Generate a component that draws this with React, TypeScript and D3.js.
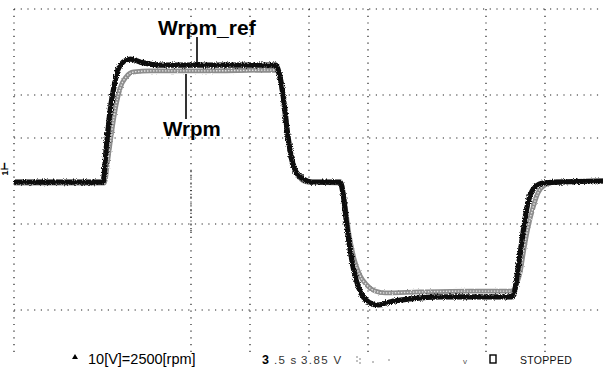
import React from "react";
import * as d3 from "d3";

// Time axis in divisions (0.5 s/div), speed in rpm (10 V = 2500 rpm, 250 rpm/div)
const refTime = [0, 1.51, 1.56, 1.63, 1.7, 1.76, 1.85, 1.97, 2.14, 2.48, 3.15, 4.44, 4.49, 4.56, 4.63, 4.7, 4.78, 4.9, 5.05, 5.53, 5.58, 5.64, 5.71, 5.8, 5.9, 6.03, 6.17, 6.37, 6.71, 7.22, 7.9, 8.44, 8.49, 8.54, 8.61, 8.68, 8.75, 8.83, 8.97, 9.25, 10];
const refRpm = [-6, -6, 180, 413, 558, 645, 692, 709, 692, 674, 674, 674, 634, 500, 297, 134, 52, 12, -6, -6, -81, -256, -430, -576, -663, -709, -721, -703, -686, -674, -674, -674, -634, -517, -343, -180, -81, -35, -12, -6, 0];

const speedTime = [0, 1.53, 1.59, 1.66, 1.73, 1.8, 1.9, 2.03, 2.31, 3.15, 4.44, 4.51, 4.58, 4.64, 4.73, 4.83, 4.98, 5.54, 5.61, 5.68, 5.76, 5.86, 5.98, 6.12, 6.29, 6.88, 7.73, 8.44, 8.51, 8.58, 8.64, 8.71, 8.8, 8.88, 9.0, 9.17, 10];
const speedRpm = [-12, -12, 122, 297, 442, 541, 605, 634, 640, 640, 645, 599, 442, 250, 105, 23, -6, -12, -140, -314, -448, -547, -605, -640, -651, -645, -640, -640, -605, -529, -401, -273, -151, -70, -23, -6, 0];

// Graticule lines that are visible on the screen
const gridTimes = [0, 3, 4, 5, 6, 8, 9];
const gridRpm = [1000, 500, 250, -250, -750];

const labelRef = "Wrpm_ref";
const labelSpeed = "Wrpm";
const scaleNote = "10[V]=2500[rpm]";
const statusText = "STOPPED";

export default function App() {
  const W = 603;
  const H = 374;
  const x = d3.scaleLinear().domain([0, 10]).range([14, 604]);
  const y = d3.scaleLinear().domain([-1000, 1000]).range([353, 9]);

  const line = d3
    .line<[number, number]>()
    .x((d) => x(d[0]))
    .y((d) => y(d[1]))
    .curve(d3.curveMonotoneX);

  const refPath = line(refTime.map((t, i) => [t, refRpm[i]]) as [number, number][]) || "";
  const speedPath = line(speedTime.map((t, i) => [t, speedRpm[i]]) as [number, number][]) || "";

  const font = "'Liberation Sans', Arial, sans-serif";

  return (
    <svg
      width={W}
      height={H}
      viewBox={`0 0 ${W} ${H}`}
      style={{ position: "absolute", left: 0, top: 0, background: "#fff" }}
    >
      <defs>
        <filter id="fuzz" filterUnits="userSpaceOnUse" x={0} y={0} width={W} height={H}>
          <feTurbulence type="fractalNoise" baseFrequency="0.9" numOctaves={1} seed={4} result="n" />
          <feDisplacementMap in="SourceGraphic" in2="n" scale={4.5} xChannelSelector="R" yChannelSelector="G" />
        </filter>
        <filter id="fuzzSoft" filterUnits="userSpaceOnUse" x={0} y={0} width={W} height={H}>
          <feTurbulence type="fractalNoise" baseFrequency="0.7" numOctaves={1} seed={9} result="n" />
          <feDisplacementMap in="SourceGraphic" in2="n" scale={2.5} xChannelSelector="R" yChannelSelector="G" />
        </filter>
      </defs>
      <rect width={W} height={H} fill="#fff" />

      {/* dotted graticule */}
      <g stroke="#222" strokeWidth={1.2} strokeDasharray="1.2 5.5">
        {gridRpm.map((v) => (
          <line key={"h" + v} x1={x(0)} x2={W} y1={y(v)} y2={y(v)} />
        ))}
        {gridTimes.map((t) => (
          <line key={"v" + t} x1={x(t)} x2={x(t)} y1={y(1000)} y2={y(-1000)} />
        ))}
      </g>
      {/* centre axis tick marks */}
      <g stroke="#222" strokeWidth={1.2} strokeDasharray="1.2 2.6">
        <line x1={x(3)} x2={x(3)} y1={y(0) - 10} y2={y(-250) + 10} />
      </g>

      {/* channel marker */}
      <g transform={`translate(8, ${y(0) - 12}) rotate(-90)`}>
        <text x={0} y={0} fontFamily={font} fontSize={9} fontWeight="bold" fill="#000" textAnchor="middle">
          1⊢
        </text>
      </g>

      {/* traces */}
      <path d={speedPath} fill="none" stroke="#8d8d8d" strokeWidth={4.8} filter="url(#fuzzSoft)" />
      <path d={speedPath} fill="none" stroke="#e2e2e2" strokeWidth={1.4} strokeDasharray="1.5 1.5" />
      <path d={refPath} fill="none" stroke="#0a0a0a" strokeWidth={5.2} filter="url(#fuzz)" />

      {/* trace labels */}
      <text x={158} y={35} fontFamily={font} fontSize={21} fontWeight="bold" fill="#000">
        {labelRef}
      </text>
      <line x1={197} x2={197} y1={37} y2={y(674)} stroke="#000" strokeWidth={1.6} />
      <text x={163} y={136} fontFamily={font} fontSize={20.5} fontWeight="bold" fill="#000">
        {labelSpeed}
      </text>
      <line x1={186} x2={186} y1={y(640) + 3} y2={119} stroke="#000" strokeWidth={1.6} />

      {/* status line */}
      <path d="M72,359 l3,-5 l3,5 z" fill="#000" />
      <text x={88} y={364} fontFamily={font} fontSize={14.5} fill="#000">
        {scaleNote}
      </text>
      <text x={262} y={364} fontFamily={font} fontSize={12.5} fontWeight="bold" fill="#000">
        3
      </text>
      <text x={274} y={364} fontFamily={font} fontSize={11.5} fill="#333" letterSpacing={1.2}>
        .5 s
      </text>
      <text x={301} y={364} fontFamily={font} fontSize={11.5} fill="#333" letterSpacing={1.4}>
        3.85 V
      </text>
      <g fill="#555">
        <circle cx={357} cy={357} r={0.7} />
        <circle cx={357} cy={361} r={0.7} />
        <circle cx={360} cy={359} r={0.7} />
        <circle cx={360} cy={363} r={0.7} />
        <circle cx={373} cy={362} r={0.7} />
        <circle cx={389} cy={360} r={0.7} />
      </g>
      <text x={463} y={364} fontFamily={font} fontSize={8} fill="#555">
        v
      </text>
      <rect x={490} y={355} width={6} height={8} fill="none" stroke="#000" strokeWidth={1.4} />
      <text x={520} y={364} fontFamily={font} fontSize={10.5} fill="#111" letterSpacing={0.3}>
        {statusText}
      </text>
    </svg>
  );
}
